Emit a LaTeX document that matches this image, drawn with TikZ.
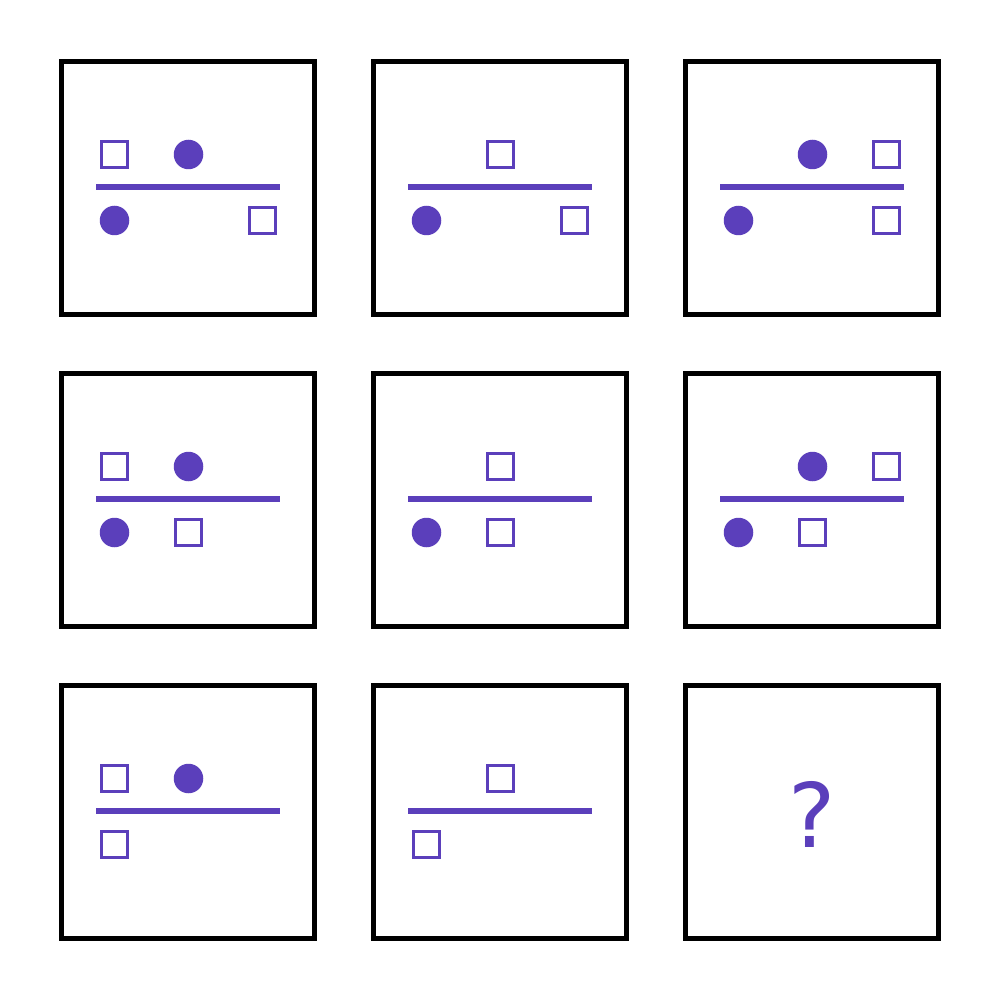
\documentclass[tikz,border=0pt]{standalone}
\usepackage{fontspec}
\setmainfont{DejaVu Sans}
\definecolor{pur}{RGB}{91,63,187}
\tikzset{
  panel/.style={draw=black,line width=5pt,minimum size=253pt,inner sep=0pt,fill=white},
  divline/.style={draw=pur,line width=6pt},
  sqr/.style={draw=pur,line width=2.7pt,minimum size=26pt,inner sep=0pt,fill=white},
  dot/.style={circle,fill=pur,minimum size=29.5pt,inner sep=0pt},
  qmark/.style={text=pur,inner sep=0pt,font=\fontsize{89}{89}\selectfont}
}
\begin{document}
\begin{tikzpicture}[x=1pt,y=-1pt]
\useasboundingbox (0,0) rectangle (1000,1000);
\fill[white] (0,0) rectangle (1000,1000);
% Row 1
\begin{scope}[shift={(62,62)}]
  \node[panel] (A) at (126,126) {};
  \coordinate (Al) at (34,125); \coordinate (Ar) at (218,125);
  \draw[divline] (Al) -- (Ar);
  \node[sqr] (At1) at (52.5,92.5) {};
  \node[dot] (At2) at (126.5,92.5) {};
  \node[dot] (Ab1) at (52.5,158.5) {};
  \node[sqr] (Ab3) at (200.5,158.5) {};
\end{scope}
\begin{scope}[shift={(374,62)}]
  \node[panel] (B) at (126,126) {};
  \coordinate (Bl) at (34,125); \coordinate (Br) at (218,125);
  \draw[divline] (Bl) -- (Br);
  \node[sqr] (Bt2) at (126.5,92.5) {};
  \node[dot] (Bb1) at (52.5,158.5) {};
  \node[sqr] (Bb3) at (200.5,158.5) {};
\end{scope}
\begin{scope}[shift={(686,62)}]
  \node[panel] (C) at (126,126) {};
  \coordinate (Cl) at (34,125); \coordinate (Cr) at (218,125);
  \draw[divline] (Cl) -- (Cr);
  \node[dot] (Ct2) at (126.5,92.5) {};
  \node[sqr] (Ct3) at (200.5,92.5) {};
  \node[dot] (Cb1) at (52.5,158.5) {};
  \node[sqr] (Cb3) at (200.5,158.5) {};
\end{scope}
% Row 2
\begin{scope}[shift={(62,374)}]
  \node[panel] (D) at (126,126) {};
  \coordinate (Dl) at (34,125); \coordinate (Dr) at (218,125);
  \draw[divline] (Dl) -- (Dr);
  \node[sqr] (Dt1) at (52.5,92.5) {};
  \node[dot] (Dt2) at (126.5,92.5) {};
  \node[dot] (Db1) at (52.5,158.5) {};
  \node[sqr] (Db2) at (126.5,158.5) {};
\end{scope}
\begin{scope}[shift={(374,374)}]
  \node[panel] (E) at (126,126) {};
  \coordinate (El) at (34,125); \coordinate (Er) at (218,125);
  \draw[divline] (El) -- (Er);
  \node[sqr] (Et2) at (126.5,92.5) {};
  \node[dot] (Eb1) at (52.5,158.5) {};
  \node[sqr] (Eb2) at (126.5,158.5) {};
\end{scope}
\begin{scope}[shift={(686,374)}]
  \node[panel] (F) at (126,126) {};
  \coordinate (Fl) at (34,125); \coordinate (Fr) at (218,125);
  \draw[divline] (Fl) -- (Fr);
  \node[dot] (Ft2) at (126.5,92.5) {};
  \node[sqr] (Ft3) at (200.5,92.5) {};
  \node[dot] (Fb1) at (52.5,158.5) {};
  \node[sqr] (Fb2) at (126.5,158.5) {};
\end{scope}
% Row 3
\begin{scope}[shift={(62,686)}]
  \node[panel] (G) at (126,126) {};
  \coordinate (Gl) at (34,125); \coordinate (Gr) at (218,125);
  \draw[divline] (Gl) -- (Gr);
  \node[sqr] (Gt1) at (52.5,92.5) {};
  \node[dot] (Gt2) at (126.5,92.5) {};
  \node[sqr] (Gb1) at (52.5,158.5) {};
\end{scope}
\begin{scope}[shift={(374,686)}]
  \node[panel] (H) at (126,126) {};
  \coordinate (Hl) at (34,125); \coordinate (Hr) at (218,125);
  \draw[divline] (Hl) -- (Hr);
  \node[sqr] (Ht2) at (126.5,92.5) {};
  \node[sqr] (Hb1) at (52.5,158.5) {};
\end{scope}
\begin{scope}[shift={(686,686)}]
  \node[panel] (I) at (126,126) {};
  \node[qmark] (Iq) at (126,128.5) {?};
\end{scope}
\end{tikzpicture}
\end{document}
